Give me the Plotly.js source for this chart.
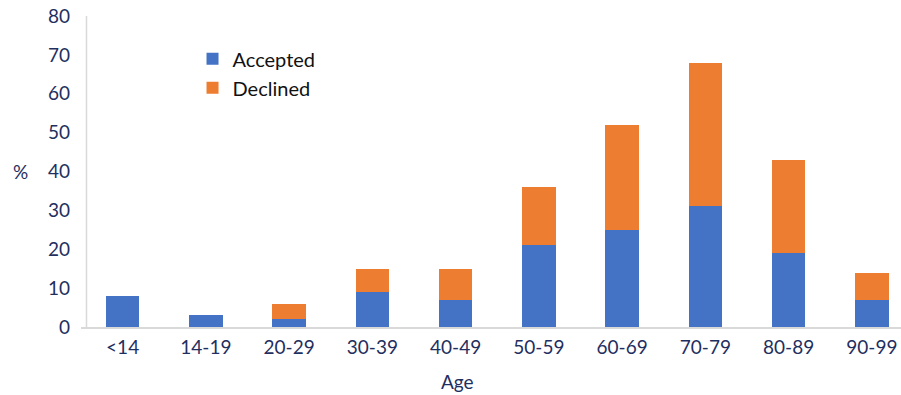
<!DOCTYPE html>
<html>
<head>
<meta charset="utf-8">
<script src="https://cdn.plot.ly/plotly-3.0.1.min.js"></script>
<style>
  html, body { margin: 0; padding: 0; background: #ffffff; }
  #chart { width: 901px; height: 395px; }
</style>
</head>
<body>
<div id="chart"></div>
<script>
// Age groups on the x axis
const ageGroups = ['<14', '14-19', '20-29', '30-39', '40-49', '50-59', '60-69', '70-79', '80-89', '90-99'];
// Share (%) of each age group, split by outcome
const accepted = [8, 3, 2, 9, 7, 21, 25, 31, 19, 7];
const declined = [0, 0, 4, 6, 8, 15, 27, 37, 24, 7];
// Y axis ticks
const yTicks = [0, 10, 20, 30, 40, 50, 60, 70, 80];

const textColor = '#1f2f5f';
const axisGrey = '#d9d9d9';
const font = { family: 'Lato, "Open Sans", sans-serif', size: 19, color: textColor };

const traces = [
  {
    type: 'bar', name: 'Accepted', x: ageGroups, y: accepted,
    marker: { color: '#4472c4' }, hoverinfo: 'skip'
  },
  {
    type: 'bar', name: 'Declined', x: ageGroups, y: declined,
    marker: { color: '#ed7d31' }, hoverinfo: 'skip'
  }
];

const layout = {
  width: 901, height: 395,
  margin: { l: 80.5, r: 0, t: 16, b: 68 },
  paper_bgcolor: '#ffffff', plot_bgcolor: '#ffffff',
  font: font,
  barmode: 'stack',
  bargap: 0.6,
  showlegend: true,
  legend: {
    x: 0.136, y: 0.925, xanchor: 'left', yanchor: 'top',
    traceorder: 'normal', bgcolor: 'rgba(0,0,0,0)',
    font: { family: font.family, size: 20, color: '#111111' }
  },
  xaxis: {
    type: 'category',
    range: [-0.5, 9.35],
    showgrid: false, zeroline: false,
    showline: true, linecolor: axisGrey, linewidth: 1.5,
    ticks: '', tickfont: font,
    ticklabelstandoff: 3
  },
  yaxis: {
    range: [0, 80],
    tickvals: yTicks,
    showgrid: false, zeroline: false, showline: false,
    ticks: '', tickfont: font,
    ticklabelstandoff: 10
  },
  shapes: [
    // vertical axis line, drawn just inside the plot edge
    { type: 'line', xref: 'paper', yref: 'paper', x0: 0.0067, x1: 0.0067, y0: 0, y1: 1,
      line: { color: axisGrey, width: 1.5 } }
  ],
  annotations: [
    { text: 'Age', xref: 'paper', yref: 'paper', x: 0.4595, y: -0.176,
      xanchor: 'center', yanchor: 'middle', showarrow: false, font: font },
    { text: '%', xref: 'paper', yref: 'paper', x: -0.0737, y: 0.5,
      xanchor: 'center', yanchor: 'middle', showarrow: false, font: font }
  ]
};

Plotly.newPlot('chart', traces, layout, { staticPlot: true, displayModeBar: false });
</script>
</body>
</html>
